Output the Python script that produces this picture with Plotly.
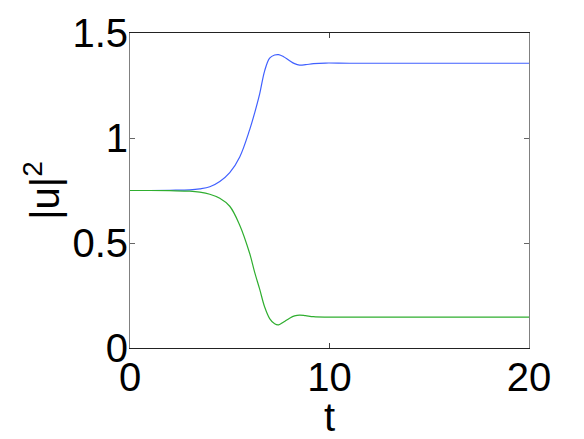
import plotly.graph_objects as go

# time samples and |u|^2 for the two components
t = [0, 1, 2, 3, 3.5, 4, 4.5, 5, 5.5, 6, 6.25, 6.5, 6.75, 7, 7.25, 7.45,
     7.7, 8, 8.25, 8.5, 8.8, 9.2, 9.8, 11, 14, 17, 20]
u1 = [0.75, 0.75, 0.751, 0.753, 0.758, 0.768, 0.793, 0.835, 0.91, 1.04,
      1.12, 1.21, 1.32, 1.38, 1.395, 1.397, 1.387, 1.368, 1.354, 1.347,
      1.349, 1.354, 1.357, 1.356, 1.356, 1.356, 1.356]
u2 = [0.75, 0.75, 0.749, 0.747, 0.742, 0.732, 0.713, 0.675, 0.585, 0.45,
      0.36, 0.28, 0.195, 0.14, 0.115, 0.110, 0.124, 0.142, 0.153, 0.157,
      0.154, 0.149, 0.147, 0.147, 0.147, 0.147, 0.147]

x_ticks = [0, 10, 20]
y_ticks = [0, 0.5, 1, 1.5]
y_labels = ["0", "0.5", "1", "1.5"]

fig = go.Figure()
fig.add_trace(go.Scatter(x=t, y=u1, mode="lines", line_shape="spline",
                         line=dict(color="#4060ff", width=1.2)))
fig.add_trace(go.Scatter(x=t, y=u2, mode="lines", line_shape="spline",
                         line=dict(color="#2fae2f", width=1.2)))

font = dict(family="Liberation Sans, Arial, sans-serif", size=40, color="black")

# page has an 8px body margin, so the figure is a bit smaller than the window
fig.update_layout(
    width=576, height=431,
    margin=dict(l=122, r=55, t=25, b=91),
    paper_bgcolor="white", plot_bgcolor="white",
    showlegend=False,
    font=font,
)
fig.update_xaxes(
    range=[0, 20], tickvals=x_ticks, ticks="inside", ticklen=5,
    tickcolor="#444", showline=True, linecolor="#222", mirror="ticks",
    showgrid=False, zeroline=False, tickfont=font, automargin=False,
    ticklabelstandoff=-6,
    title=dict(text="t", font=font, standoff=0),
)
fig.update_yaxes(
    range=[0, 1.5], tickvals=y_ticks, ticktext=y_labels, ticks="inside",
    ticklen=5, tickcolor="#666", showline=True, linecolor="#808080",
    mirror="ticks", showgrid=False, zeroline=False, tickfont=font,
    automargin=False, ticklabelstandoff=-7,
    title=dict(text="|u|<sup>2</sup>", font=font, standoff=0),
)

fig.write_html("out.html")
